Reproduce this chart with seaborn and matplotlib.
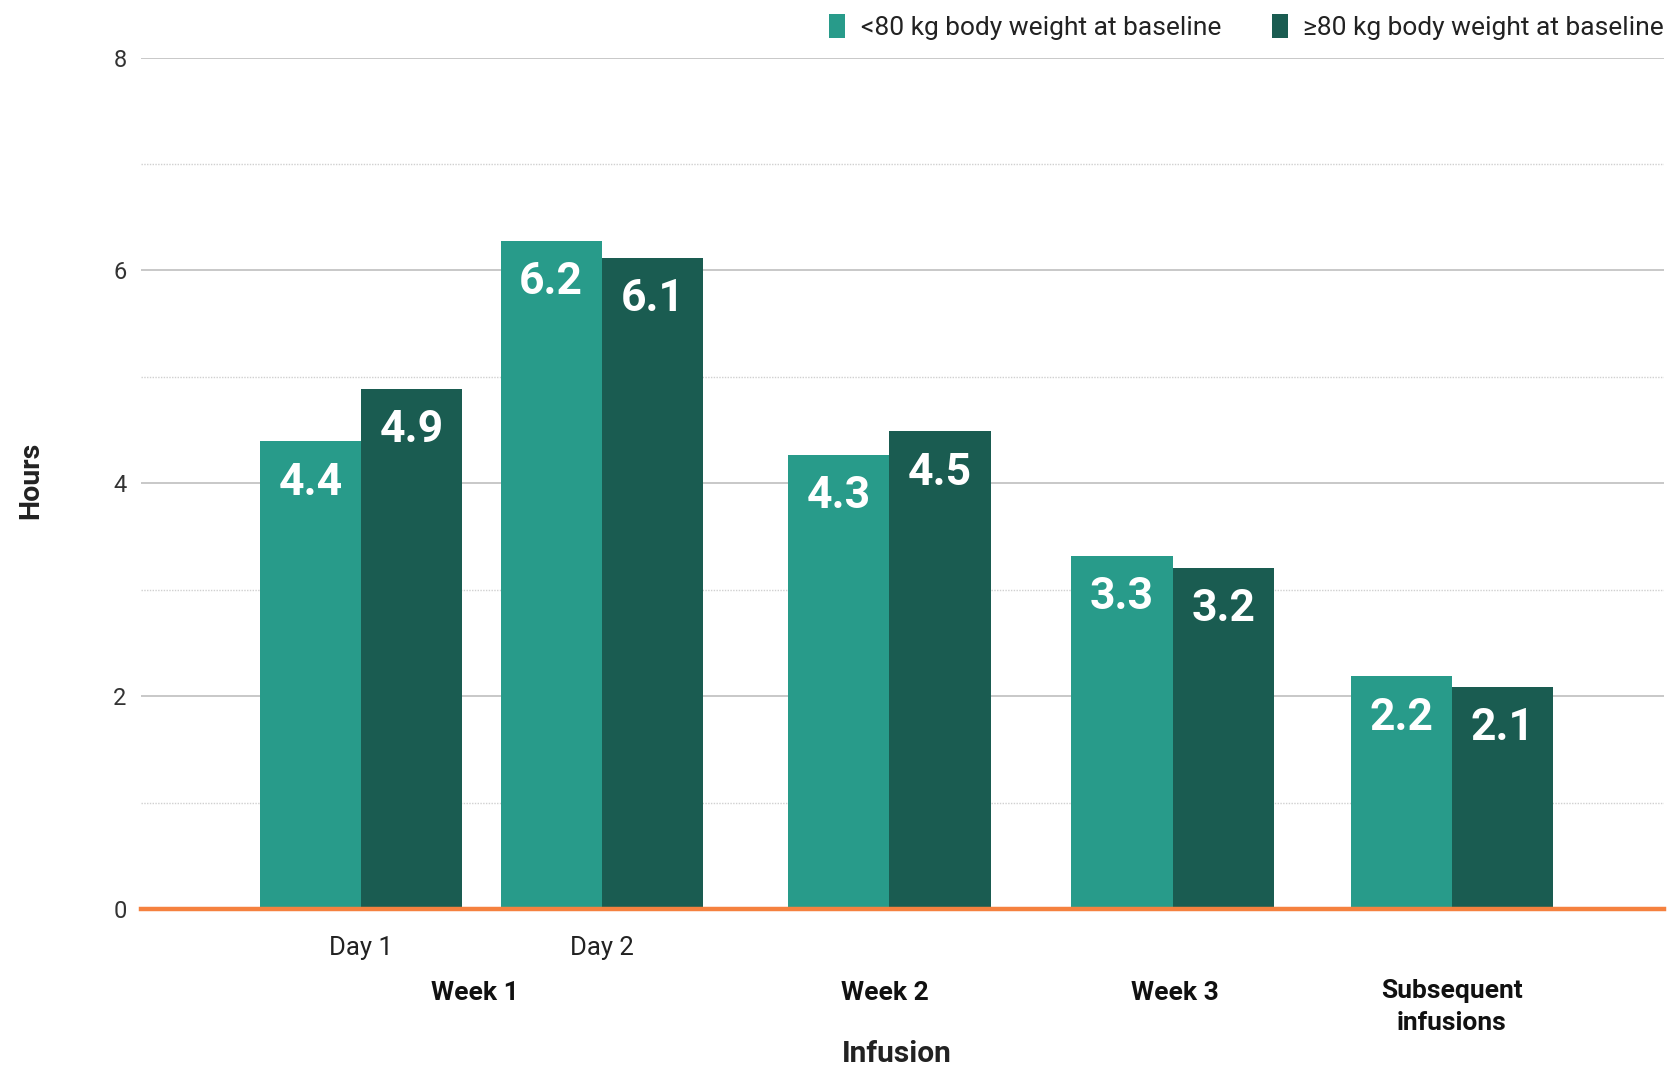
import pandas as pd
import matplotlib.pyplot as plt
import seaborn as sns

# values (hours)
infusions = ["Day 1", "Day 2", "Week 2", "Week 3", "Subsequent infusions"]
under80 = [4.40, 6.28, 4.27, 3.32, 2.19]
over80 = [4.89, 6.12, 4.49, 3.21, 2.09]
under80_labels = ["4.4", "6.2", "4.3", "3.3", "2.2"]
over80_labels = ["4.9", "6.1", "4.5", "3.2", "2.1"]
groups = ["<80 kg body weight at baseline", "\u226580 kg body weight at baseline"]
tick_labels = ["Day 1", "Day 2", "", "", ""]
week_labels = ["Week 1", "Week 2", "Week 3", "Subsequent\ninfusions"]

# layout only: group centres (uneven spacing) and week label anchors
group_pos = [339, 565, 835, 1101, 1363]
week_pos = [446, 831, 1103, 1363]

teal = "#289b8a"
dark = "#1a5c51"
orange = "#f5813f"

df = pd.DataFrame({
    "pos": group_pos * 2,
    "hours": under80 + over80,
    "group": [groups[0]] * 5 + [groups[1]] * 5,
})

sns.set_style("white")
plt.rcParams["font.family"] = ["Roboto", "DejaVu Sans"]

fig = plt.figure(figsize=(16.7, 10.66), dpi=100)
ax = fig.add_axes([0.0842, 0.147, 0.912, 0.799])

sns.barplot(data=df, x="pos", y="hours", hue="group", native_scale=True,
            palette=[teal, dark], saturation=1, width=0.8407, linewidth=0, ax=ax)

ax.set_xlim(132, 1562)
ax.set_ylim(0, 8)
ax.set_yticks([0, 2, 4, 6, 8])
ax.set_yticks([1, 3, 5, 7], minor=True)
ax.grid(axis="y", which="major", color="#c4c4c4", linewidth=1.3)
ax.grid(axis="y", which="minor", color="#d0d0d0", linewidth=1.0, linestyle=(0, (1, 1)))
ax.set_axisbelow(True)
for s in ["left", "right", "top"]:
    ax.spines[s].set_visible(False)
ax.spines["bottom"].set_color(orange)
ax.spines["bottom"].set_linewidth(3.2)
ax.spines["bottom"].set_zorder(5)
ax.tick_params(axis="y", which="both", length=0, pad=10, labelsize=17, labelcolor="#333333")
ax.tick_params(axis="x", length=0, pad=19, labelsize=18.5, labelcolor="#222222")
ax.set_xticks(group_pos)
ax.set_xticklabels(tick_labels)
ax.set_xlabel("")
ax.set_ylabel("")

# value labels inside the bars
for cont, labs in zip(ax.containers, [under80_labels, over80_labels]):
    for bar, lab in zip(cont, labs):
        ax.annotate(lab, xy=(bar.get_x() + bar.get_width() / 2, bar.get_height()),
                    xytext=(0, -30), textcoords="offset points",
                    ha="center", va="center", color="white",
                    fontsize=32, fontweight="bold")

# week labels under the axis
for lab, x in zip(week_labels, week_pos):
    two_lines = "\n" in lab
    ax.annotate(lab, xy=(x, 0), xycoords=("data", "axes fraction"),
                xytext=(0, -50 if two_lines else -60), textcoords="offset points",
                ha="center", va="top" if two_lines else "center",
                fontsize=19, fontweight="bold", color="#111111",
                linespacing=1.45)

ax.annotate("Infusion", xy=(842, 0), xycoords=("data", "axes fraction"),
            xytext=(0, -104), textcoords="offset points",
            ha="center", va="center", fontsize=21.5, fontweight="bold", color="#222222")
ax.annotate("Hours", xy=(0, 0.5), xycoords="axes fraction",
            xytext=(-79, 2), textcoords="offset points", rotation=90,
            ha="center", va="center", fontsize=20.5, fontweight="bold", color="#222222")

handles, labels = ax.get_legend_handles_labels()
ax.legend_.remove()
fig.legend(handles, labels, loc="upper right", bbox_to_anchor=(1.0107, 1.009),
           ncol=2, frameon=False, fontsize=19, handlelength=0.6, handleheight=1.0,
           handletextpad=0.6, columnspacing=1.92, labelcolor="#222222")

fig.savefig("out.png", dpi=100)
